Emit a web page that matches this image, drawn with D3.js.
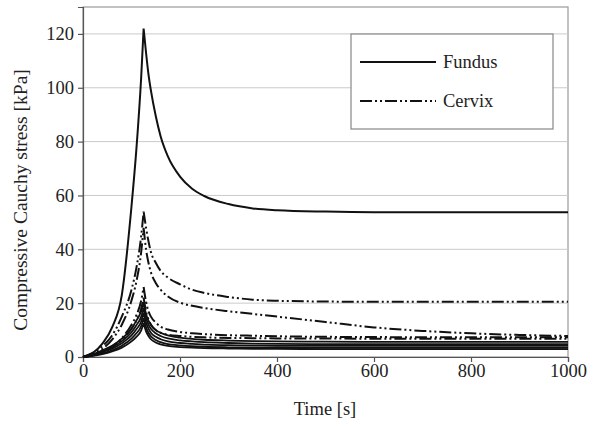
<!DOCTYPE html>
<html>
<head>
<meta charset="utf-8">
<script src="https://cdn.jsdelivr.net/npm/d3@7"></script>
<style>
  body { margin: 0; background: #fff; }
  text { font-family: "Liberation Serif", "DejaVu Serif", serif; fill: #222; }
</style>
</head>
<body>
<div id="canvas"></div>
<script>
/* DATA */
const riseT  = [0, 20, 40, 60, 80, 100, 110, 120, 125];
const decayT = [125, 130, 135, 140, 150, 160, 175, 200, 225, 250, 300, 350, 400, 500, 600, 700, 800, 900, 1000];

const yTicks = [0, 20, 40, 60, 80, 100, 120];
const xTicks = [0, 200, 400, 600, 800, 1000];

// fundus
const fundusRise  = [0, 1.5, 5, 11, 23, 56, 77, 104, 122];
const fundusDecay = [122, 113, 105, 99, 89.5, 82, 74.5, 67, 62.5, 59.8, 56.8, 55.2, 54.5, 54, 53.8, 53.8, 53.8, 53.8, 53.8];

// cervix
const cervix1Rise  = [0, 1.5, 4, 8, 15, 25, 33, 45, 54];
const cervix1Decay = [54, 48, 43, 39, 35, 32, 29.5, 27, 25, 23.8, 22.3, 21.3, 20.9, 20.6, 20.5, 20.5, 20.5, 20.5, 20.5];
const cervix2Rise  = [0, 1, 3, 6.5, 12, 21, 28, 39, 48];
const cervix2Decay = [48, 40, 35, 31.5, 27.5, 25, 22.5, 20.2, 19, 18.2, 17, 16, 15, 13, 11, 9.7, 8.8, 8.2, 7.8];
const cervix3Rise  = [0, 0.6, 1.8, 3.8, 7, 12, 15.5, 21, 26];
const cervix3Decay = [26, 20.5, 17, 15, 12.8, 11.3, 10.2, 9.3, 8.8, 8.5, 8.1, 7.9, 7.7, 7.5, 7.4, 7.35, 7.3, 7.3, 7.3];
const cervix4Rise  = [0, 0.7, 2, 4, 6.5, 10.5, 13.5, 18, 22];
const cervix4Decay = [22, 17, 14, 12, 10, 9, 8.3, 7.8, 7.5, 7.3, 7.1, 7, 6.9, 6.85, 6.8, 6.8, 6.8, 6.8, 6.8];

// other solid curves
const solid1Rise  = [0, 1, 2.5, 4.2, 6.8, 10.5, 13.5, 17, 20];
const solid1Decay = [20, 16, 13.5, 12, 10, 9, 8, 7.2, 6.7, 6.4, 6.1, 5.9, 5.8, 5.7, 5.6, 5.6, 5.6, 5.6, 5.6];
const solid2Rise  = [0, 0.8, 2.1, 3.6, 5.9, 9.2, 11.8, 15, 18.2];
const solid2Decay = [18.2, 14.5, 12, 10.5, 8.8, 7.8, 6.9, 6.2, 5.8, 5.5, 5.2, 5, 4.9, 4.8, 4.8, 4.8, 4.8, 4.8, 4.8];
const solid3Rise  = [0, 0.7, 1.8, 3.1, 5.1, 8, 10.3, 13.2, 16.4];
const solid3Decay = [16.4, 12.8, 10.5, 9, 7.5, 6.6, 5.8, 5.2, 4.9, 4.6, 4.4, 4.25, 4.15, 4.1, 4.1, 4.1, 4.1, 4.1, 4.1];
const solid4Rise  = [0, 0.5, 1.4, 2.5, 4.2, 6.8, 8.8, 11.5, 14.5];
const solid4Decay = [14.5, 11, 9, 7.7, 6.3, 5.5, 4.8, 4.3, 4, 3.8, 3.6, 3.5, 3.45, 3.4, 3.4, 3.4, 3.4, 3.4, 3.4];
const solid5Rise  = [0, 0.4, 1.1, 2.1, 3.5, 5.8, 7.5, 9.9, 12.5];
const solid5Decay = [12.5, 9.5, 7.8, 6.6, 5.4, 4.7, 4.1, 3.7, 3.45, 3.3, 3.15, 3.05, 3, 2.95, 2.9, 2.9, 2.9, 2.9, 2.9];

const solidCurves  = [
    [fundusRise, fundusDecay],
    [solid1Rise, solid1Decay], [solid2Rise, solid2Decay], [solid3Rise, solid3Decay],
    [solid4Rise, solid4Decay], [solid5Rise, solid5Decay]
];
const cervixCurves = [
    [cervix1Rise, cervix1Decay], [cervix2Rise, cervix2Decay],
    [cervix3Rise, cervix3Decay], [cervix4Rise, cervix4Decay]
];

/* CANVAS */
const width = 589;
const height = 425;
const svg = d3.select("#canvas").append("svg")
    .attr("width", width)
    .attr("height", height);

const x = d3.scaleLinear().domain([0, 1000]).range([83, 568]);
const y = d3.scaleLinear().domain([0, 130]).range([357, 7]);

const dashCervix = "12,3,2,3,2,3";
const fontSize = "18.5px";

/* GRID + FRAME */
svg.append("rect")
    .attr("x", x(0)).attr("y", y(130))
    .attr("width", x(1000) - x(0)).attr("height", y(0) - y(130))
    .attr("fill", "none").attr("stroke", "#9a9a9a").attr("stroke-width", 1.2);

svg.selectAll(".grid").data(yTicks.filter(d => d > 0)).enter().append("line")
    .attr("x1", x(0)).attr("x2", x(1000))
    .attr("y1", d => y(d)).attr("y2", d => y(d))
    .attr("stroke", "#cacaca").attr("stroke-width", 1);

/* AXES */
const yAxis = svg.append("g")
    .attr("transform", `translate(${x(0)},0)`)
    .call(d3.axisLeft(y).tickValues(yTicks).tickSize(5).tickPadding(4));
const xAxis = svg.append("g")
    .attr("transform", `translate(0,${y(0)})`)
    .call(d3.axisBottom(x).tickValues(xTicks).tickFormat(d3.format("d")).tickSize(5).tickPadding(2));

[yAxis, xAxis].forEach(function(ax) {
    ax.selectAll("path, line").attr("stroke", "#555").attr("stroke-width", 1.2);
    ax.selectAll("text")
        .style("font-family", '"Liberation Serif", serif')
        .style("font-size", fontSize)
        .attr("fill", "#222");
});

svg.append("text")
    .attr("x", 325).attr("y", 415)
    .attr("text-anchor", "middle")
    .style("font-size", fontSize)
    .text("Time [s]");

svg.append("text")
    .attr("transform", "translate(27,200) rotate(-90)")
    .attr("text-anchor", "middle")
    .style("font-size", "19.5px")
    .text("Compressive Cauchy stress [kPa]");

/* CURVES */
const line = d3.line()
    .x(d => x(d[0]))
    .y(d => y(d[1]))
    .curve(d3.curveMonotoneX);

function curvePath(c) {
    const rise = riseT.map((t, i) => [t, c[0][i]]);
    const decay = decayT.map((t, i) => [t, c[1][i]]);
    return line(rise) + line(decay);
}

svg.selectAll(".solid").data(solidCurves).enter().append("path")
    .attr("d", curvePath)
    .attr("fill", "none")
    .attr("stroke", "#111")
    .attr("stroke-width", (d, i) => i === 0 ? 2 : 1.8);

svg.selectAll(".cervix").data(cervixCurves).enter().append("path")
    .attr("d", curvePath)
    .attr("fill", "none")
    .attr("stroke", "#111")
    .attr("stroke-width", 2)
    .attr("stroke-dasharray", dashCervix);

/* LEGEND */
const legend = svg.append("g");
legend.append("rect")
    .attr("x", 351).attr("y", 34)
    .attr("width", 202).attr("height", 95)
    .attr("fill", "#fff").attr("stroke", "#888").attr("stroke-width", 1.2);

legend.append("line")
    .attr("x1", 360).attr("x2", 436).attr("y1", 62).attr("y2", 62)
    .attr("stroke", "#111").attr("stroke-width", 2);
legend.append("text")
    .attr("x", 443).attr("y", 68)
    .style("font-size", fontSize)
    .text("Fundus");

legend.append("line")
    .attr("x1", 360).attr("x2", 436).attr("y1", 101).attr("y2", 101)
    .attr("stroke", "#111").attr("stroke-width", 2)
    .attr("stroke-dasharray", dashCervix);
legend.append("text")
    .attr("x", 443).attr("y", 107)
    .style("font-size", fontSize)
    .text("Cervix");
</script>
</body>
</html>
